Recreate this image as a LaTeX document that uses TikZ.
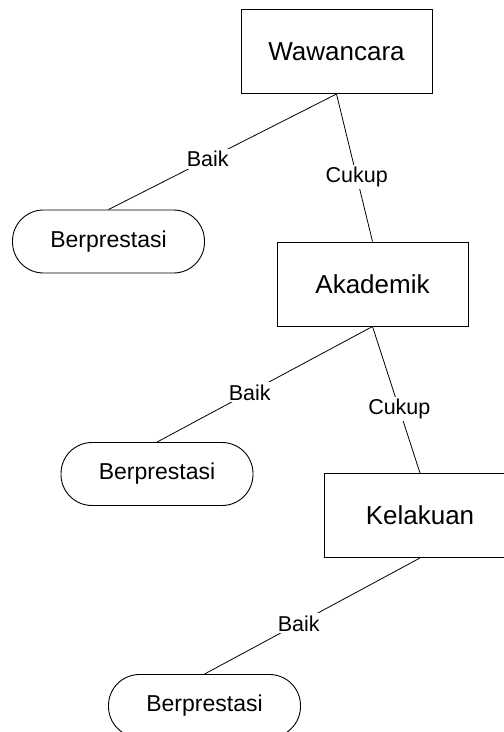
\documentclass[tikz,border=0pt]{standalone}
\usepackage{fontspec}
\setmainfont{Liberation Sans}
\begin{document}
\begin{tikzpicture}[x=1pt,y=-1pt,
  criterion/.style={draw, line width=1pt, rectangle, inner sep=0pt,
    minimum width=191pt, minimum height=84pt, font=\fontsize{26}{31}\selectfont},
  outcome/.style={draw, line width=0.9pt, rectangle, rounded corners=31pt, inner sep=0pt,
    minimum width=192pt, minimum height=63pt, font=\fontsize{23}{27}\selectfont},
  branch/.style={draw, line width=0.8pt},
  choice/.style={fill=white, inner sep=2pt, font=\fontsize{21.5}{25}\selectfont}]
  \useasboundingbox (0,0) rectangle (504,732);
  \clip (0,0) rectangle (504,732);

  % decision boxes
  \node[criterion] (W) at (336.5,51.5) {Wawancara};
  \node[criterion] (A) at (372.5,284) {Akademik};
  \node[criterion] (K) at (420,515.5) {Kelakuan};

  % terminal outcomes
  \node[outcome] (B1) at (108.5,241.5) {Berprestasi};
  \node[outcome] (B2) at (157,474) {Berprestasi};
  \node[outcome] (B3) at (204.5,706) {Berprestasi};

  % branches
  \draw[branch] (W.south) -- node[choice, pos=0.565] {Baik} (B1.north);
  \draw[branch] (W.south) -- node[choice, pos=0.56] {Cukup} (A.north);
  \draw[branch] (A.south) -- node[choice, pos=0.57] {Baik} (B2.north);
  \draw[branch] (A.south) -- node[choice, pos=0.565] {Cukup} (K.north);
  \draw[branch] (K.south) -- node[choice, pos=0.563] {Baik} (B3.north);
\end{tikzpicture}
\end{document}
